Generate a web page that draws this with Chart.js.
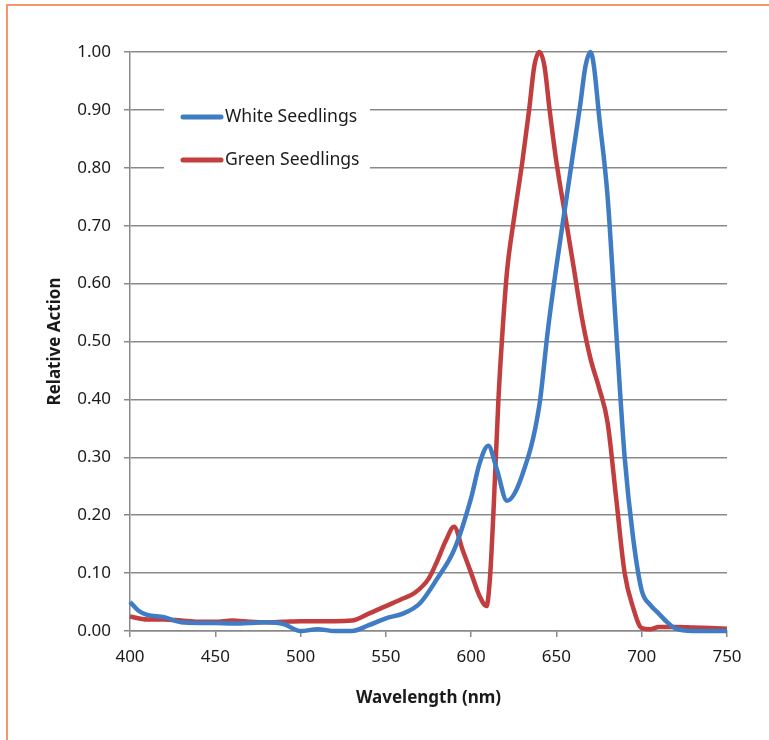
<!DOCTYPE html>
<html>
<head>
<meta charset="utf-8">
<script src="https://cdn.jsdelivr.net/npm/chart.js@4.4.1/dist/chart.umd.min.js"></script>
<style>
  html, body { margin: 0; padding: 0; background: #fff; }
  #wrap { position: relative; width: 769px; height: 740px; }
  #frame { position: absolute; left: 6px; top: 4px; right: 0; bottom: 0;
           border-top: 2px solid #f4956a; border-left: 2px solid #f4956a; pointer-events: none; }
  canvas { display: block; }
</style>
</head>
<body>
<div id="wrap">
  <canvas id="cnvs_spectrum" width="769" height="740"></canvas>
  <div id="frame"></div>
</div>
<script>
// action spectra (wavelength in nm, relative action)
const whiteNm = [400, 405, 410, 420, 430, 440, 450, 460, 470, 480, 490, 500, 510, 520, 530, 540, 550, 560, 570, 580, 590, 600, 605, 610, 615, 621, 630, 640, 645, 650, 655, 660, 664, 667, 670, 672, 675, 680, 685, 690, 695, 700, 705, 710, 715, 720, 730, 750];
const whiteAction = [0.05, 0.035, 0.028, 0.024, 0.015, 0.014, 0.014, 0.013, 0.014, 0.015, 0.012, 0.0, 0.003, 0.0, 0.0, 0.01, 0.022, 0.03, 0.048, 0.09, 0.14, 0.23, 0.29, 0.32, 0.28, 0.225, 0.27, 0.39, 0.52, 0.63, 0.73, 0.83, 0.91, 0.975, 1.0, 0.975, 0.89, 0.75, 0.52, 0.3, 0.16, 0.07, 0.045, 0.03, 0.015, 0.004, 0.0, 0.0];

const greenNm = [400, 410, 420, 430, 440, 450, 460, 470, 480, 490, 500, 510, 520, 530, 540, 550, 560, 567, 575, 580, 585, 590, 595, 600, 605, 609, 611, 613, 616, 618, 621, 625, 630, 634, 637, 640, 643, 646, 650, 655, 660, 665, 670, 675, 680, 685, 690, 695, 700, 705, 710, 720, 730, 750];
const greenAction = [0.025, 0.02, 0.02, 0.018, 0.016, 0.016, 0.018, 0.016, 0.015, 0.016, 0.017, 0.017, 0.017, 0.018, 0.03, 0.043, 0.056, 0.066, 0.09, 0.12, 0.155, 0.18, 0.14, 0.1, 0.06, 0.043, 0.09, 0.2, 0.4, 0.5, 0.62, 0.71, 0.81, 0.9, 0.975, 1.0, 0.975, 0.9, 0.81, 0.72, 0.63, 0.54, 0.47, 0.42, 0.36, 0.23, 0.1, 0.04, 0.005, 0.003, 0.007, 0.007, 0.006, 0.004];

const seriesLabels = ['White Seedlings', 'Green Seedlings'];
const seriesColors = ['#3f7cc4', '#c23d3d'];

const xTicks = [400, 450, 500, 550, 600, 650, 700, 750];

const toPoints = (xs, ys) => xs.map((x, i) => ({x: x, y: ys[i]}));

// legend box drawn inside the plot, over the gridlines
const insideLegend = {
  id: 'insideLegend',
  afterDatasetsDraw(chart) {
    const ctx = chart.ctx;
    ctx.save();
    ctx.fillStyle = '#fff';
    ctx.fillRect(164, 86, 206, 104);
    chart.data.datasets.forEach(function(ds, i) {
      const y = 117 + i * 43;
      ctx.strokeStyle = ds.borderColor;
      ctx.lineWidth = 5;
      ctx.lineCap = 'round';
      ctx.beginPath();
      ctx.moveTo(183, y);
      ctx.lineTo(221, y);
      ctx.stroke();
      ctx.fillStyle = '#1a1a1a';
      ctx.font = '17.6px "Noto Sans"';
      ctx.textBaseline = 'middle';
      ctx.textAlign = 'left';
      ctx.fillText(ds.label, 225, y);
    });
    ctx.restore();
  }
};

const ctx = document.getElementById('cnvs_spectrum').getContext('2d');
new Chart(ctx, {
  type: 'line',
  data: {
    datasets: [
      {label: seriesLabels[0], data: toPoints(whiteNm, whiteAction), borderColor: seriesColors[0]},
      {label: seriesLabels[1], data: toPoints(greenNm, greenAction), borderColor: seriesColors[1]}
    ]
  },
  options: {
    responsive: false,
    animation: false,
    clip: 6,
    layout: {padding: {top: 52, right: 42, left: 0, bottom: 0}},
    elements: {
      point: {radius: 0},
      line: {borderWidth: 4.5, cubicInterpolationMode: 'monotone', fill: false}
    },
    plugins: {legend: {display: false}, tooltip: {enabled: false}},
    scales: {
      x: {
        type: 'linear',
        min: 400, max: 750,
        afterFit(scale) { scale.height = 109; },
        afterBuildTicks(scale) { scale.ticks = xTicks.map(v => ({value: v})); },
        grid: {drawOnChartArea: false, drawTicks: true, tickLength: 6, color: '#898989', lineWidth: 1.5},
        border: {color: '#898989', width: 1.5},
        ticks: {color: '#1a1a1a', font: {family: 'Noto Sans', size: 17}, padding: 10, maxRotation: 0},
        title: {display: true, text: 'Wavelength (nm)', color: '#1a1a1a',
                font: {family: 'Noto Sans', size: 17, weight: 'bold'}, padding: {top: 0, bottom: 32}}
      },
      y: {
        min: 0, max: 1,
        afterFit(scale) { scale.width = 130; },
        grid: {drawTicks: true, tickLength: 6, color: '#898989', lineWidth: 1.5},
        border: {color: '#898989', width: 1.5},
        ticks: {stepSize: 0.1, color: '#1a1a1a', font: {family: 'Noto Sans', size: 17}, padding: 13,
                callback: v => v.toFixed(2)},
        title: {display: true, text: 'Relative Action', color: '#1a1a1a',
                font: {family: 'Noto Sans', size: 17, weight: 'bold'}, padding: {top: 45, bottom: 0}}
      }
    }
  },
  plugins: [insideLegend]
});
</script>
</body>
</html>
